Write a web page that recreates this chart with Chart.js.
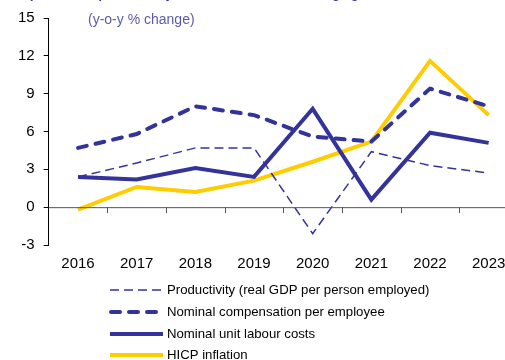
<!DOCTYPE html>
<html>
<head>
<meta charset="utf-8">
<script src="https://cdn.jsdelivr.net/npm/chart.js@4"></script>
<style>
    body { margin: 0; background: #fff; overflow: hidden; width: 505px; height: 360px; position: relative; }
    #wrap { position: absolute; left: 0; top: 0; width: 525px; height: 360px; }
    #title { position: absolute; left: 2px; top: -14px; font: italic bold 13px "Liberation Sans", Arial, sans-serif; color: #333399; white-space: nowrap; }
    #unit { position: absolute; left: 88px; top: 11px; font: 14px "Liberation Sans", Arial, sans-serif; color: #5b5bab; }
</style>
</head>
<body>
<div id="wrap"><canvas id="chart" width="525" height="360"></canvas></div>
<div id="title">Compensation, productivity, unit labour costs and wage growth</div>
<div id="unit">(y-o-y % change)</div>
<script>
const years = ['2016', '2017', '2018', '2019', '2020', '2021', '2022', '2023'];
const productivity = [2.4, 3.5, 4.7, 4.7, -2.1, 4.4, 3.3, 2.7];
const compensation = [4.7, 5.8, 8.0, 7.3, 5.6, 5.2, 9.4, 8.0];
const unitLabourCosts = [2.4, 2.2, 3.1, 2.4, 7.8, 0.6, 5.9, 5.1];
const hicp = [-0.2, 1.6, 1.2, 2.1, 3.6, 5.2, 11.6, 7.3];
const yTicks = [-3, 0, 3, 6, 9, 12, 15];

const BLUE = '#333399';
const YELLOW = '#ffcc00';
const FONT = '"Liberation Sans", Arial, sans-serif';

// zero line, x tick marks and the legend under the axis
const extras = {
    id: 'extras',
    afterDatasetsDraw(chart) {
        const ctx = chart.ctx;
        const area = chart.chartArea;
        const x = chart.scales.x;
        const y0 = chart.scales.y.getPixelForValue(0);
        ctx.save();
        ctx.strokeStyle = '#555';
        ctx.lineWidth = 1;
        ctx.beginPath();
        ctx.moveTo(area.left, y0 + 0.5);
        ctx.lineTo(area.right, y0 + 0.5);
        const step = x.getPixelForValue(1) - x.getPixelForValue(0);
        for (let i = 1; i < years.length; i++) {
            const px = Math.round(x.getPixelForValue(i) - step / 2) + 0.5;
            ctx.moveTo(px, y0);
            ctx.lineTo(px, y0 + 6);
        }
        ctx.stroke();

        // legend
        const rows = [290, 312, 334, 355];
        chart.data.datasets.forEach((ds, i) => {
            const ly = rows[i];
            ctx.strokeStyle = ds.borderColor;
            ctx.lineWidth = ds.borderWidth;
            ctx.lineCap = ds.borderCapStyle || 'butt';
            ctx.setLineDash(ds.borderDash || []);
            ctx.beginPath();
            ctx.moveTo(i == 1 ? 111 : 110, ly);
            ctx.lineTo(i == 1 ? 160 : 163, ly);
            ctx.stroke();
            ctx.setLineDash([]);
            ctx.fillStyle = '#000';
            ctx.font = '13.2px ' + FONT;
            ctx.textBaseline = 'middle';
            ctx.fillText(ds.label, 167, ly);
        });
        ctx.restore();
    }
};

new Chart(document.getElementById('chart'), {
    type: 'line',
    data: {
        labels: years,
        datasets: [{
            label: 'Productivity (real GDP per person employed)',
            data: productivity,
            borderColor: BLUE,
            borderWidth: 1.5,
            borderDash: [9, 5]
        }, {
            label: 'Nominal compensation per employee',
            data: compensation,
            borderColor: BLUE,
            borderWidth: 4,
            borderDash: [9, 9],
            borderCapStyle: 'round'
        }, {
            label: 'Nominal unit labour costs',
            data: unitLabourCosts,
            borderColor: BLUE,
            borderWidth: 4
        }, {
            label: 'HICP inflation',
            data: hicp,
            borderColor: YELLOW,
            borderWidth: 4
        }]
    },
    options: {
        responsive: false,
        animation: false,
        elements: { point: { radius: 0 }, line: { tension: 0, fill: false } },
        layout: { padding: { left: 9, right: 7, top: 11, bottom: 85 } },
        scales: {
            x: {
                offset: true,
                grid: { display: false },
                border: { display: false },
                ticks: { color: '#000', font: { family: FONT, size: 15 }, padding: 2, maxRotation: 0, autoSkip: false }
            },
            y: {
                min: -3,
                max: 15,
                afterBuildTicks: axis => { axis.ticks = yTicks.map(v => ({ value: v })); },
                grid: { drawOnChartArea: false, tickLength: 5, color: '#000' },
                border: { color: '#000', width: 1 },
                ticks: { color: '#000', font: { family: FONT, size: 15 }, padding: 9 }
            }
        },
        plugins: { legend: { display: false }, tooltip: { enabled: false } }
    },
    plugins: [extras]
});
</script>
</body>
</html>
